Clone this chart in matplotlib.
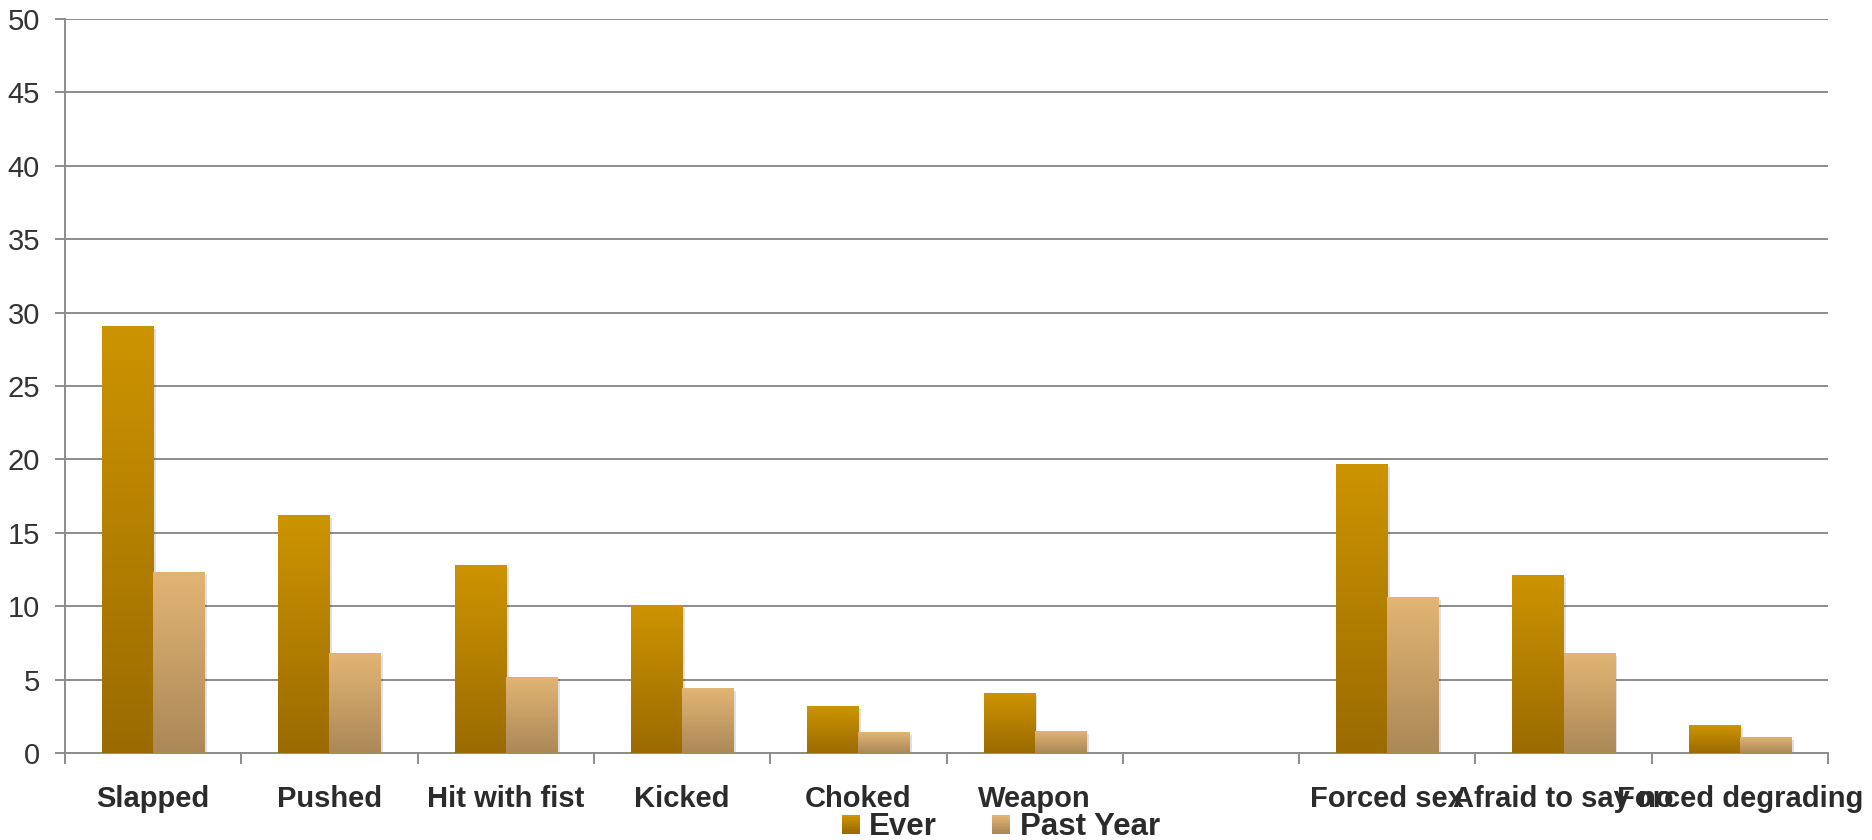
import numpy as np
import matplotlib.pyplot as plt
import matplotlib.patheffects as pe
from matplotlib.colors import LinearSegmentedColormap
from matplotlib.legend_handler import HandlerBase
from matplotlib.patches import Rectangle

plt.rcParams['font.family'] = ['Liberation Sans', 'DejaVu Sans']

categories = ['Slapped', 'Pushed', 'Hit with fist', 'Kicked', 'Choked', 'Weapon',
              '', 'Forced sex', 'Afraid to say no', 'Forced degrading']
ever = [29.1, 16.2, 12.8, 10.1, 3.2, 4.1, 0, 19.7, 12.1, 1.9]
past_year = [12.3, 6.8, 5.2, 4.4, 1.4, 1.5, 0, 10.6, 6.8, 1.1]
series_names = ['Ever', 'Past Year']

# top / bottom colours of the vertical gradients
ever_cols = ('#cd9400', '#9a6b00')
past_cols = ('#e2b574', '#ab8858')

grid_col = '#8c8c8c'
text_col = '#2b2b2b'


def gradient_cmap(top, bottom):
    return LinearSegmentedColormap.from_list('g', [bottom, top])


def fill_gradient(ax, bars, cols):
    cmap = gradient_cmap(*cols)
    grad = np.linspace(0, 1, 256).reshape(-1, 1)
    for b in bars:
        h = b.get_height()
        if h <= 0:
            b.set_visible(False)
            continue
        x0 = b.get_x()
        im = ax.imshow(grad, cmap=cmap, origin='lower', aspect='auto',
                       extent=[x0, x0 + b.get_width(), 0, h], zorder=3)
        im.set_clip_path(b)


class GradientHandler(HandlerBase):
    def __init__(self, cols):
        super().__init__()
        self.cols = cols

    def create_artists(self, legend, orig_handle, xdescent, ydescent,
                       width, height, fontsize, trans):
        cmap = gradient_cmap(*self.cols)
        n = 12
        side = height * 0.75
        x0 = -xdescent + width - side
        y0 = -ydescent + (height - side) / 2
        arts = []
        for k in range(n):
            c = cmap(1 - k / (n - 1))
            r = Rectangle((x0, y0 + side - (k + 1) * side / n),
                          side, side / n + 0.3, facecolor=c, edgecolor='none',
                          transform=trans)
            arts.append(r)
        return arts


fig = plt.figure(figsize=(18.72, 8.4), dpi=100)
ax = fig.add_axes([65 / 1872, 1 - 753 / 840, (1828 - 65) / 1872, (753 - 19) / 840])

x = np.arange(len(categories))
w = 0.29
shadow = [pe.SimplePatchShadow(offset=(2, -2), shadow_rgbFace='#000000', alpha=0.12),
          pe.Normal()]
b1 = ax.bar(x - w / 2, ever, w, color=ever_cols[1], zorder=2, path_effects=shadow)
b2 = ax.bar(x + w / 2, past_year, w, color=past_cols[1], zorder=2, path_effects=shadow)
fill_gradient(ax, b1, ever_cols)
fill_gradient(ax, b2, past_cols)

ax.set_xlim(-0.5, len(categories) - 0.5)
ax.set_ylim(0, 50)
ax.set_yticks(np.arange(0, 51, 5))
ax.yaxis.grid(True, color=grid_col, linewidth=1.4)
ax.set_axisbelow(True)

ax.set_xticks(x)
ax.set_xticklabels(categories, fontsize=21, fontweight='bold', color=text_col)
ax.set_xticks(np.arange(-0.5, len(categories), 1), minor=True)
ax.tick_params(axis='x', which='major', length=0, pad=23)
ax.tick_params(axis='x', which='minor', length=8, width=1.4, color=grid_col, direction='out')
ax.tick_params(axis='y', length=7, width=1.4, color=grid_col, direction='out',
               labelsize=21, labelcolor='#333333', pad=11)

for s in ['top', 'right']:
    ax.spines[s].set_visible(False)
for s in ['left', 'bottom']:
    ax.spines[s].set_color(grid_col)
    ax.spines[s].set_linewidth(1.4)

h1 = Rectangle((0, 0), 1, 1)
h2 = Rectangle((0, 0), 1, 1)
fig.legend([h1, h2], series_names, loc='center', bbox_to_anchor=(0.534, 0.015),
           ncol=2, frameon=False, handler_map={h1: GradientHandler(ever_cols),
                                               h2: GradientHandler(past_cols)},
           prop={'size': 22.5, 'weight': 'bold'}, labelcolor=text_col,
           handlelength=0.65, handleheight=0.8, handletextpad=0.3, columnspacing=1.7,
           borderpad=0, borderaxespad=0)

fig.savefig('out.png', dpi=100, facecolor='white')
